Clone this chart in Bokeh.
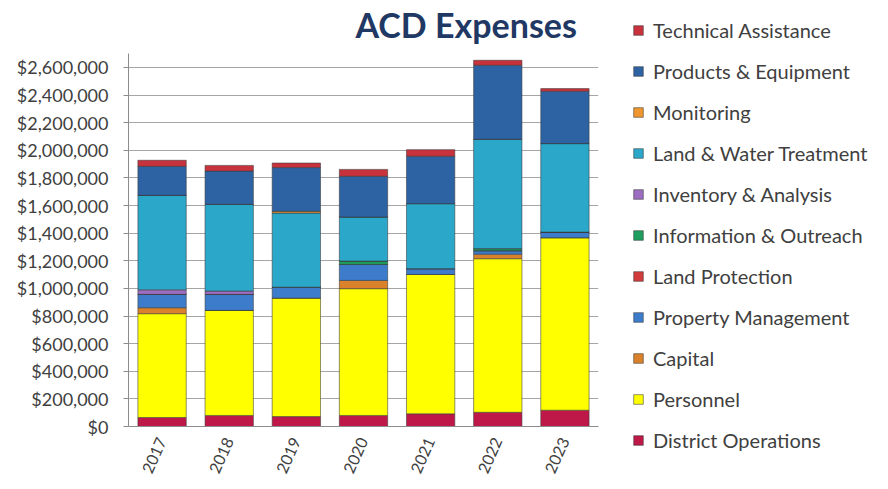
from bokeh.plotting import figure
from bokeh.models import (FixedTicker, NumeralTickFormatter, Legend, LegendItem,
                          ColumnDataSource, Label)
from bokeh.embed import file_html
from bokeh.resources import INLINE

years = ["2017", "2018", "2019", "2020", "2021", "2022", "2023"]

district_operations = [65000, 80000, 72000, 80000, 92000, 103000, 118000]
personnel = [752000, 761000, 858000, 918000, 1009000, 1112000, 1249000]
capital = [43000, 0, 0, 60000, 0, 33000, 0]
property_management = [97000, 116000, 79000, 116000, 42000, 25000, 41000]
land_protection = [0, 0, 0, 0, 0, 0, 0]
information_outreach = [0, 0, 0, 24000, 0, 15000, 0]
inventory_analysis = [33000, 24000, 0, 0, 0, 0, 0]
land_water_treatment = [684000, 628000, 537000, 319000, 471000, 792000, 641000]
monitoring = [0, 0, 12000, 0, 0, 0, 0]
products_equipment = [210000, 241000, 317000, 295000, 343000, 536000, 379000]
technical_assistance = [44000, 41000, 33000, 50000, 48000, 36000, 19000]

series_names = ["District Operations", "Personnel", "Capital", "Property Management",
                "Land Protection", "Information & Outreach", "Inventory & Analysis",
                "Land & Water Treatment", "Monitoring", "Products & Equipment",
                "Technical Assistance"]
series_values = [district_operations, personnel, capital, property_management,
                 land_protection, information_outreach, inventory_analysis,
                 land_water_treatment, monitoring, products_equipment,
                 technical_assistance]
series_colors = ["#BE1848", "#FFFF00", "#D9822B", "#3C7CCB", "#D23B3B", "#1E9E5E",
                 "#9C6DC0", "#2AA7C9", "#F0962E", "#2D62A3", "#C8323C"]

y_ticks = list(range(0, 2600001, 200000))
title_text = "ACD Expenses"

keys = ["s%d" % i for i in range(len(series_names))]
data = {"years": years}
for k, v in zip(keys, series_values):
    data[k] = v
source = ColumnDataSource(data)

FONT = "Lato"

# frame reaches the top of the canvas; axis line limited by bounds
p = figure(x_range=years, y_range=(0, 3085000), title=None,
           frame_width=470, frame_height=426,
           min_border_left=128, min_border_right=274,
           min_border_top=0, min_border_bottom=47,
           output_backend="svg", toolbar_location=None,
           background_fill_color="white", border_fill_color="white")
p.outline_line_color = None

renderers = p.vbar_stack(keys, x="years", width=0.72, source=source,
                         fill_color=series_colors, line_color="#3a3a3a",
                         line_width=0.7, line_alpha=0.8)

# title
p.add_layout(Label(x=3.38, y=2914000, text=title_text, text_font=FONT,
                   text_font_style="bold", text_font_size="34px",
                   text_color="#1F3864", text_baseline="alphabetic",
                   text_align="left"))

# y axis
p.yaxis.bounds = (0, 2700000)
p.yaxis.ticker = FixedTicker(ticks=y_ticks)
p.yaxis.formatter = NumeralTickFormatter(format="$0,0")
p.yaxis.major_label_text_font = FONT
p.yaxis.major_label_text_font_size = "18px"
p.yaxis.major_label_text_color = "#404040"
p.yaxis.axis_line_color = "#8c8c8c"
p.yaxis.major_tick_line_color = "#8c8c8c"
p.yaxis.major_tick_out = 5
p.yaxis.major_tick_in = 0
p.yaxis.minor_tick_line_color = None
p.yaxis.major_label_standoff = 15

# x axis
p.xaxis.major_label_orientation = 1.15
p.xaxis.major_label_text_font = FONT
p.xaxis.major_label_text_font_size = "16px"
p.xaxis.major_label_text_color = "#404040"
p.xaxis.axis_line_color = "#8c8c8c"
p.xaxis.major_tick_line_color = None
p.xaxis.major_label_standoff = 6

p.xgrid.grid_line_color = None
p.ygrid.ticker = FixedTicker(ticks=y_ticks[1:])
p.ygrid.grid_line_color = "#a6a6a6"
p.ygrid.grid_line_width = 1

items = [LegendItem(label=n, renderers=[r]) for n, r in zip(series_names, renderers)]
items = items[::-1]
legend = Legend(items=items, location=(34, -26))
legend.label_text_font = FONT
legend.label_text_font_size = "20px"
legend.label_text_color = "#404040"
legend.glyph_width = 12
legend.glyph_height = 12
legend.label_height = 20
legend.spacing = 17
legend.label_standoff = 9
legend.padding = 10
legend.border_line_color = None
legend.background_fill_alpha = 0
p.add_layout(legend, "right")

open("out.html", "w").write(file_html(p, INLINE))
